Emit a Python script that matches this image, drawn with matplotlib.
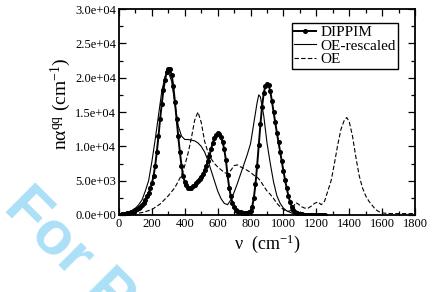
import numpy as np
import matplotlib
matplotlib.use("Agg")
import matplotlib.pyplot as plt
from matplotlib.ticker import MultipleLocator, FuncFormatter

plt.rcParams["font.family"] = ["Liberation Serif", "DejaVu Serif"]
plt.rcParams["mathtext.fontset"] = "custom"
plt.rcParams["mathtext.rm"] = "Liberation Serif"
plt.rcParams["mathtext.it"] = "Liberation Serif:italic"

# DIPPIM, sampled every 10 cm-1 (values in units of 1e4)
dippim_x = np.arange(0, 1260, 10)
dippim_y = [
    0.00, 0.005, 0.01, 0.015, 0.02, 0.025, 0.03, 0.04, 0.05, 0.06,
    0.07, 0.09, 0.10, 0.12, 0.15, 0.18, 0.22, 0.27, 0.32, 0.39,
    0.46, 0.57, 0.72, 0.92, 1.15, 1.40, 1.62, 1.82, 1.97, 2.08,
    2.13, 2.12, 2.04, 1.88, 1.65, 1.40, 1.15, 0.92, 0.72, 0.57,
    0.48, 0.43, 0.40, 0.39, 0.40, 0.42, 0.44, 0.47, 0.50, 0.53,
    0.56, 0.60, 0.65, 0.71, 0.78, 0.86, 0.96, 1.05, 1.12, 1.17,
    1.19, 1.18, 1.14, 1.06, 0.96, 0.80, 0.58, 0.40, 0.27, 0.18,
    0.12, 0.08, 0.06, 0.05, 0.04, 0.035, 0.03, 0.03, 0.03, 0.04,
    0.06, 0.12, 0.25, 0.45, 0.72, 1.02, 1.32, 1.58, 1.77, 1.88,
    1.91, 1.89, 1.80, 1.66, 1.50, 1.35, 1.20, 1.06, 0.92, 0.78,
    0.64, 0.51, 0.39, 0.28, 0.19, 0.12, 0.08, 0.05, 0.03, 0.02,
    0.01, 0.008, 0.006, 0.005, 0.004, 0.003, 0.003, 0.002, 0.002, 0.002,
    0.001, 0.001, 0.001, 0.001, 0.001, 0.001,
]

# OE-rescaled
resc_x = [0, 20, 40, 60, 80, 100, 120, 140, 160, 180, 200, 220, 240, 260, 280,
          300, 320, 340, 360, 380, 400, 420, 440, 460, 480, 500, 520, 540, 560,
          580, 600, 620, 640, 660, 680, 700, 720, 740, 760, 780, 800, 820, 840,
          850, 860, 880, 900, 920, 940, 960, 980, 1000, 1020, 1040, 1060, 1080,
          1100, 1150, 1200]
resc_y = [0.0, 0.01, 0.02, 0.04, 0.07, 0.10, 0.15, 0.22, 0.35, 0.50, 0.78, 1.10,
          1.45, 1.80, 2.02, 2.08, 1.95, 1.62, 1.30, 1.15, 1.10, 1.10, 1.09, 1.08,
          1.05, 1.00, 0.92, 0.80, 0.65, 0.50, 0.35, 0.24, 0.17, 0.15, 0.22, 0.33,
          0.46, 0.60, 0.74, 0.88, 1.04, 1.34, 1.64, 1.75, 1.72, 1.45, 1.05, 0.75,
          0.48, 0.28, 0.17, 0.10, 0.06, 0.04, 0.02, 0.01, 0.005, 0.002, 0.0]

# OE
oe_x = [0, 50, 100, 150, 200, 250, 300, 340, 380, 400, 420, 440, 460, 480, 500,
        520, 540, 560, 580, 600, 620, 640, 660, 680, 700, 720, 740, 760, 780, 800,
        820, 840, 860, 880, 900, 920, 940, 960, 980, 1000, 1020, 1040, 1060, 1075,
        1090, 1110, 1130, 1150, 1170, 1190, 1210, 1230, 1250, 1270, 1290, 1310,
        1330, 1350, 1370, 1385, 1400, 1420, 1440, 1460, 1480, 1500, 1520, 1540,
        1560, 1580, 1600, 1650, 1700, 1800]
oe_y = [0.0, 0.01, 0.02, 0.04, 0.08, 0.16, 0.28, 0.40, 0.58, 0.72, 0.90, 1.12,
        1.38, 1.50, 1.35, 1.08, 0.92, 0.82, 0.75, 0.70, 0.66, 0.62, 0.60, 0.65,
        0.72, 0.73, 0.70, 0.68, 0.65, 0.62, 0.58, 0.55, 0.50, 0.42, 0.35, 0.30,
        0.24, 0.17, 0.12, 0.08, 0.05, 0.06, 0.12, 0.18, 0.16, 0.12, 0.10, 0.10,
        0.13, 0.17, 0.19, 0.15, 0.20, 0.35, 0.50, 0.75, 1.02, 1.25, 1.38, 1.42,
        1.36, 1.15, 0.85, 0.58, 0.40, 0.28, 0.20, 0.14, 0.08, 0.05, 0.03, 0.02,
        0.02, 0.02]

scale = 1e4

fig = plt.figure(figsize=(4.32, 2.92), dpi=100)
ax = fig.add_axes([0.2755, 0.2637, 0.6851, 0.7053])

# faint review watermark behind the axes
fig.text(0.005, 0.284, "For Peer Review", rotation=-45, rotation_mode="anchor",
         fontsize=44, color="#ace0f7", family=["Liberation Sans"],
         fontweight="bold", ha="left", va="baseline", zorder=-1)

ax.plot(dippim_x, np.array(dippim_y) * scale, color="black", lw=1.4,
        marker="o", ms=2.6, label="DIPPIM")
ax.plot(resc_x, np.array(resc_y) * scale, color="black", lw=0.8,
        label="OE-rescaled")
ax.plot(oe_x, np.array(oe_y) * scale, color="black", lw=0.8,
        dashes=(4, 2), label="OE")

ax.set_xlim(0, 1800)
ax.set_ylim(0, 3e4)
ax.xaxis.set_major_locator(MultipleLocator(200))
ax.xaxis.set_minor_locator(MultipleLocator(100))
ax.yaxis.set_major_locator(MultipleLocator(5000))
ax.yaxis.set_minor_locator(MultipleLocator(2500))
ax.yaxis.set_major_formatter(FuncFormatter(lambda v, p: f"{v:.1e}"))
ax.tick_params(which="both", direction="in", top=True, right=True,
               labelsize=9, width=0.9, pad=2)
ax.tick_params(which="major", length=5)
ax.tick_params(which="minor", length=3)
for s in ax.spines.values():
    s.set_linewidth(1.3)

ax.set_xlabel("ν  (cm$^{-1}$)", fontsize=13, labelpad=2)
ax.set_ylabel("nα$^{\\mathrm{qq}}$ (cm$^{-1}$)", fontsize=14)
ax.yaxis.set_label_coords(-0.155, 0.54)

leg = ax.legend(loc="upper right", bbox_to_anchor=(0.9426, 0.932),
                borderaxespad=0, fontsize=11, frameon=True, fancybox=False,
                edgecolor="black", framealpha=1, handlelength=1.4,
                handletextpad=0.3, labelspacing=0.0, borderpad=0.15)
leg.get_frame().set_linewidth(1.0)

fig.savefig("out.png", dpi=100)
